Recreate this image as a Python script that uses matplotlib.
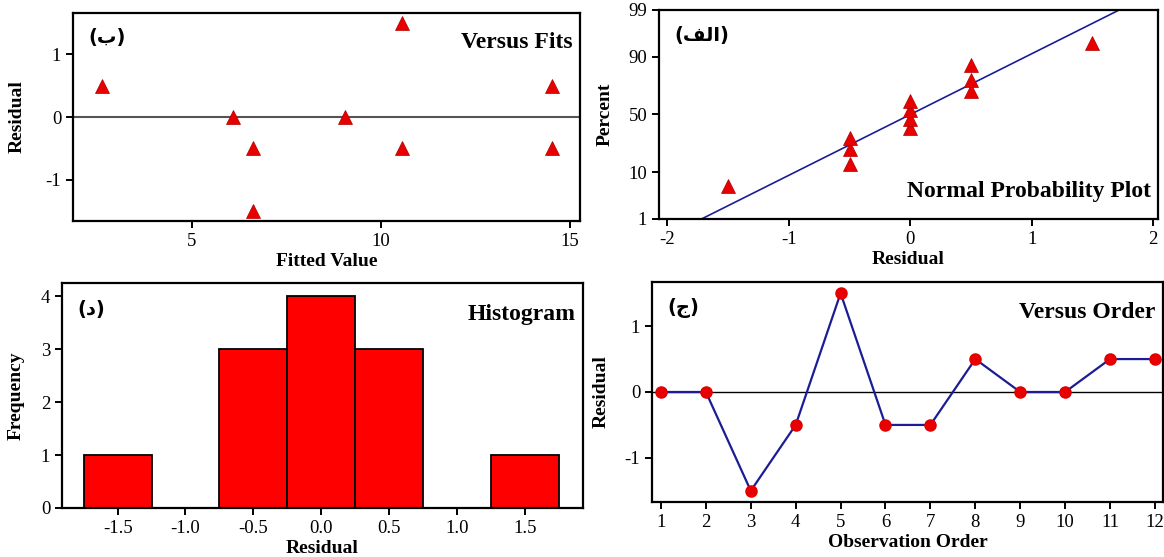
import matplotlib
matplotlib.use("Agg")
from statistics import NormalDist

import matplotlib.pyplot as plt

plt.rcParams['font.family'] = ['Liberation Serif', 'DejaVu Sans']
plt.rcParams['axes.unicode_minus'] = False
plt.rcParams['axes.linewidth'] = 1.6
plt.rcParams['xtick.major.width'] = 1.4
plt.rcParams['ytick.major.width'] = 1.4
plt.rcParams['xtick.major.size'] = 5
plt.rcParams['ytick.major.size'] = 5
plt.rcParams['xtick.labelsize'] = 13.5
plt.rcParams['ytick.labelsize'] = 13.5

W, H = 1164, 557

# residuals in observation order
order = list(range(1, 13))
residuals = [0, 0, -1.5, -0.5, 1.5, -0.5, -0.5, 0.5, 0, 0, 0.5, 0.5]

# versus fits (visible points)
fitted = [2.62, 6.08, 6.62, 6.62, 9.05, 10.57, 10.57, 14.52, 14.52]
fit_resid = [0.5, 0, -0.5, -1.5, 0, 1.5, -0.5, 0.5, -0.5]

# normal probability plot
npp_resid = [-1.5, -0.5, -0.5, -0.5, 0, 0, 0, 0, 0.5, 0.5, 0.5, 1.5]
npp_pct = [5.6, 13.7, 21.8, 29.8, 37.9, 46.0, 54.0, 62.1, 70.2, 78.2, 86.3, 94.4]
line_resid = [-1.72, 1.72]
line_pct = [1, 99]
pct_ticks = [1, 10, 50, 90, 99]

# histogram
bin_centers = [-1.5, -1.0, -0.5, 0.0, 0.5, 1.0, 1.5]
bin_counts = [1, 0, 3, 4, 3, 0, 1]

RED = '#e80000'
NAVY = '#1c1c96'


def box(l, t, r, b):
    return [l / W, 1 - b / H, (r - l) / W, (b - t) / H]


def z(p):
    return NormalDist().inv_cdf(p / 100)


def tag(ax, s, title):
    ax.text(0.03, 0.88, s, transform=ax.transAxes, family=['DejaVu Sans'],
            fontweight='bold', fontsize=14, va='center', ha='left')
    ax.text(0.985, 0.86, title, transform=ax.transAxes, fontweight='bold',
            fontsize=17, va='center', ha='right')


fig = plt.figure(figsize=(W / 100, H / 100), dpi=100)

# Versus Fits
ax1 = fig.add_axes(box(73, 13, 580, 221))
ax1.axhline(0, color='#555555', lw=1.5)
ax1.plot(fitted, fit_resid, '^', color=RED, ms=10, mec='#b00000', mew=0.5)
ax1.set_xlim(1.85, 15.27)
ax1.set_ylim(-1.66, 1.66)
ax1.set_xticks([5, 10, 15])
ax1.set_yticks([-1, 0, 1])
ax1.set_xlabel('Fitted Value', fontweight='bold', fontsize=14, labelpad=2)
ax1.set_ylabel('Residual', fontweight='bold', fontsize=14, labelpad=14)
tag(ax1, '(\uFE8F)', 'Versus Fits')

# Normal Probability Plot
ax2 = fig.add_axes(box(659, 10, 1158, 219))
ax2.plot(line_resid, [z(p) for p in line_pct], color=NAVY, lw=1.2)
ax2.plot(npp_resid, [z(p) for p in npp_pct], '^', color=RED, ms=10,
         mec='#b00000', mew=0.5)
ax2.set_xlim(-2.07, 2.04)
ax2.set_ylim(z(1), z(99))
ax2.set_yticks([z(p) for p in pct_ticks])
ax2.set_yticklabels([str(p) for p in pct_ticks])
ax2.set_xticks([-2, -1, 0, 1, 2])
ax2.set_xlabel('Residual', fontweight='bold', fontsize=14, labelpad=2)
ax2.set_ylabel('Percent', fontweight='bold', fontsize=14, labelpad=11)
ax2.text(0.03, 0.88, '(\uFED2\uFEDF\uFE8D)', transform=ax2.transAxes,
         family=['DejaVu Sans'], fontweight='bold', fontsize=14, va='center')
ax2.text(0.985, 0.13, 'Normal Probability Plot', transform=ax2.transAxes,
         fontweight='bold', fontsize=17, va='center', ha='right')

# Histogram
ax3 = fig.add_axes(box(62, 283, 583, 508))
ax3.bar(bin_centers, bin_counts, width=0.5, color='#ff0000',
        edgecolor='black', lw=1.3)
ax3.set_xlim(-1.91, 1.93)
ax3.set_ylim(0, 4.25)
ax3.set_xticks([-1.5, -1.0, -0.5, 0.0, 0.5, 1.0, 1.5])
ax3.set_xticklabels(['%.1f' % v for v in [-1.5, -1.0, -0.5, 0.0, 0.5, 1.0, 1.5]])
ax3.set_yticks([0, 1, 2, 3, 4])
ax3.set_xlabel('Residual', fontweight='bold', fontsize=14, labelpad=2)
ax3.set_ylabel('Frequency', fontweight='bold', fontsize=14, labelpad=12)
tag(ax3, '(\uFEA9)', 'Histogram')

# Versus Order
ax4 = fig.add_axes(box(652, 282, 1163, 502))
ax4.axhline(0, color='black', lw=1)
ax4.plot(order, residuals, '-', color=NAVY, lw=1.6)
ax4.plot(order, residuals, 'o', color=RED, ms=8, mec='#e00000')
ax4.set_xlim(0.8, 12.18)
ax4.set_ylim(-1.67, 1.67)
ax4.set_xticks(order)
ax4.set_yticks([-1, 0, 1])
ax4.set_xlabel('Observation Order', fontweight='bold', fontsize=14, labelpad=2)
ax4.set_ylabel('Residual', fontweight='bold', fontsize=14, labelpad=11)
tag(ax4, '(\uFE9D)', 'Versus Order')

fig.savefig('out.png', dpi=100)
